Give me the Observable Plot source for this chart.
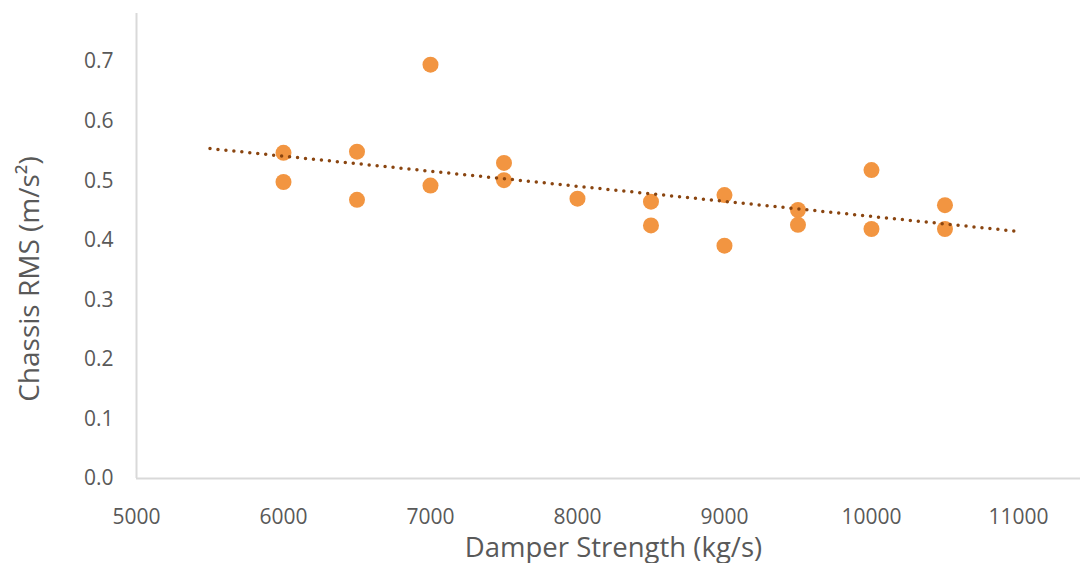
<!DOCTYPE html>
<html>
<head>
<meta charset="utf-8">
<script src="https://cdn.jsdelivr.net/npm/d3@7"></script>
<script src="https://cdn.jsdelivr.net/npm/@observablehq/plot@0.6"></script>
<style>
  html, body { margin: 0; padding: 0; background: #fff; }
  #chart { width: 1080px; height: 563px; }
</style>
</head>
<body>
<div id="chart"></div>
<script>
// Damper strength (kg/s) of each run
const damperStrength = [6000, 6000, 6500, 6500, 7000, 7000, 7500, 7500, 8000, 8500, 8500, 9000, 9000, 9500, 9500, 10000, 10000, 10500, 10500];
// Chassis RMS acceleration (m/s²) of each run
const chassisRMS = [0.547, 0.498, 0.549, 0.468, 0.695, 0.492, 0.530, 0.501, 0.470, 0.465, 0.425, 0.476, 0.391, 0.451, 0.426, 0.518, 0.419, 0.459, 0.419];
// Linear trendline extent (Excel forecast backward/forward 500)
const trendFrom = 5500;
const trendTo = 11000;
// Tick labels
const xTicks = [5000, 6000, 7000, 8000, 9000, 10000, 11000];
const yTicks = [0, 0.1, 0.2, 0.3, 0.4, 0.5, 0.6, 0.7];
const xTitle = "Damper Strength (kg/s)";
const yTitle = "Chassis RMS (m/s²)";

const points = damperStrength.map((x, i) => ({x, y: chassisRMS[i]}));

// least-squares linear fit (Excel linear trendline)
const mx = d3.mean(damperStrength), my = d3.mean(chassisRMS);
const slope = d3.sum(points, d => (d.x - mx) * (d.y - my)) / d3.sum(points, d => (d.x - mx) ** 2);
const intercept = my - slope * mx;
const trend = [trendFrom, trendTo].map(x => ({x, y: intercept + slope * x}));

const font = "'Open Sans', 'DejaVu Sans', sans-serif";
const grey = "#595959";

const chart = Plot.plot({
  width: 1080,
  height: 563,
  marginLeft: 136,
  marginRight: 0,
  marginTop: 13,
  marginBottom: 85,
  style: {fontFamily: font, color: grey, background: "#fff", overflow: "visible"},
  x: {domain: [5000, 11422]},
  y: {domain: [0, 0.781]},
  marks: [
    Plot.ruleY([0], {stroke: "#d9d9d9", strokeWidth: 2}),
    Plot.ruleX([5000], {stroke: "#d9d9d9", strokeWidth: 2}),
    Plot.axisX({ticks: xTicks, tickSize: 0, tickPadding: 31, tickFormat: d => String(d), label: null, fontSize: 21, fill: grey}),
    Plot.axisY({ticks: yTicks, tickSize: 0, tickPadding: 23, tickFormat: d3.format(".1f"), label: null, fontSize: 21, fill: grey}),
    Plot.dot(points, {x: "x", y: "y", r: 8, fill: "#f29541", stroke: "none"}),
    Plot.line(trend, {x: "x", y: "y", stroke: "#8a4510", strokeWidth: 3.5, strokeDasharray: "0 8", strokeLinecap: "round"}),
    Plot.text([xTitle], {frameAnchor: "bottom", dx: 5, dy: 78, lineAnchor: "bottom", textAnchor: "middle", fontSize: 27.5, fill: grey}),
    Plot.text([yTitle], {frameAnchor: "left", dx: -106, dy: 33, rotate: -90, lineAnchor: "middle", textAnchor: "middle", fontSize: 28, fill: grey})
  ]
});
document.getElementById("chart").append(chart);
</script>
</body>
</html>
